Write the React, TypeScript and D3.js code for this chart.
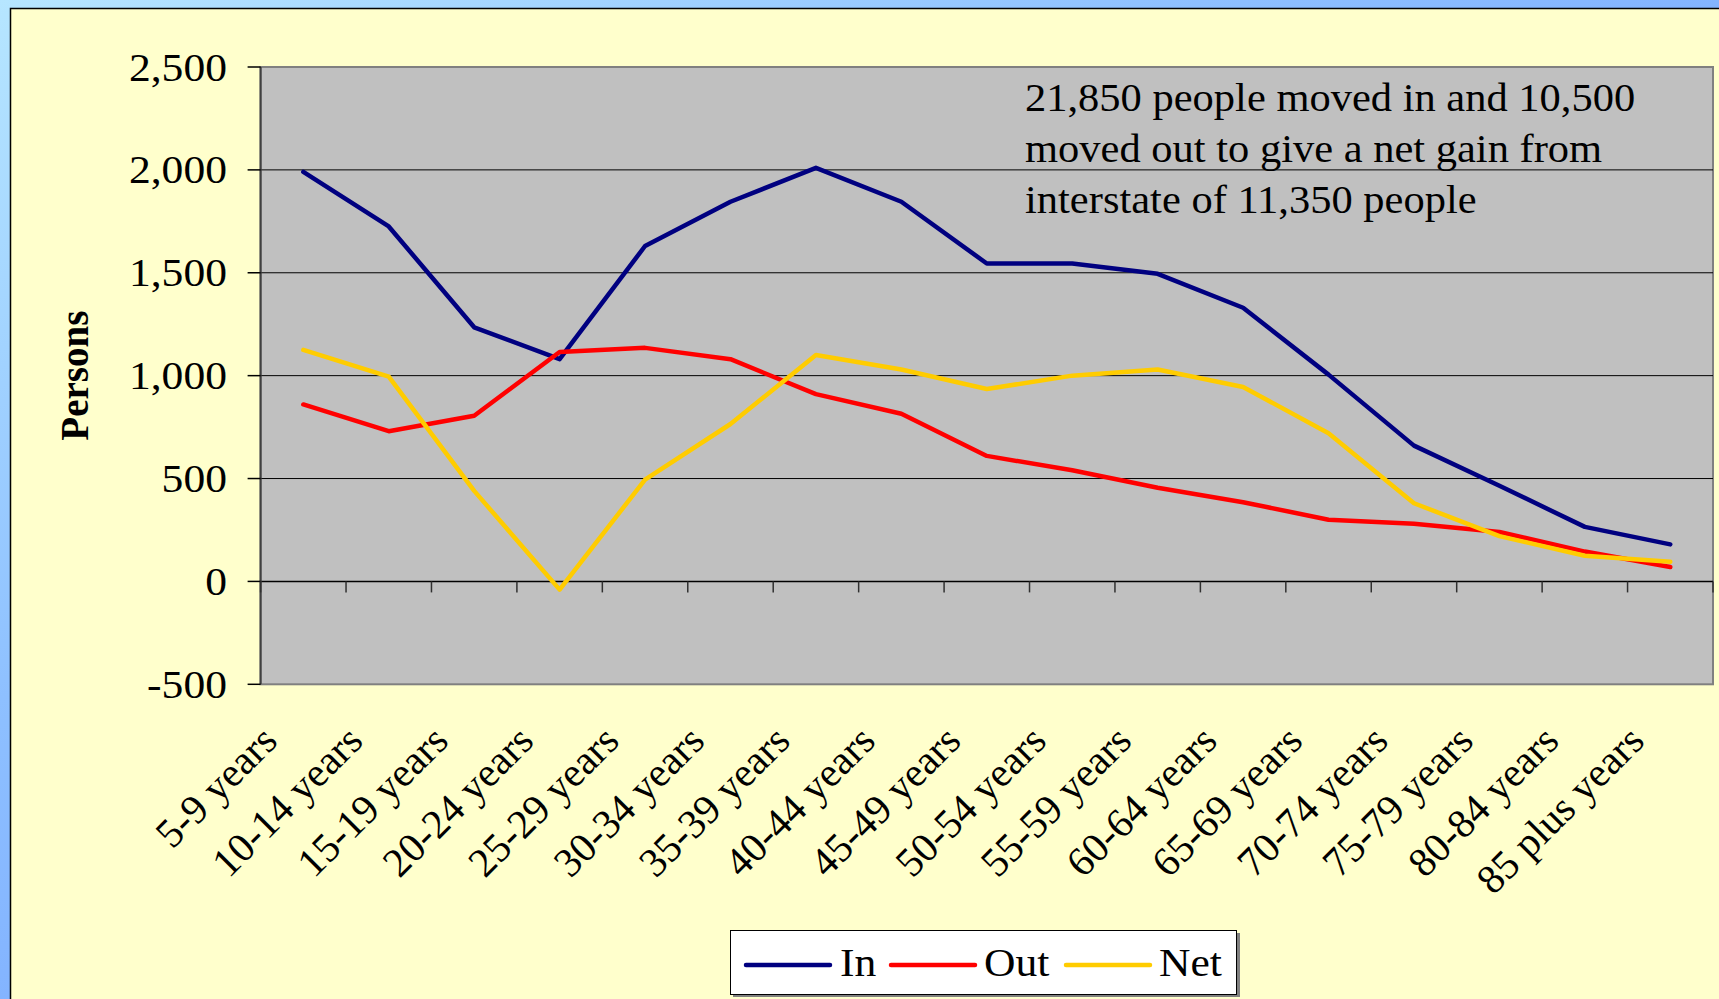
import React from "react";
import * as d3 from "d3";

const categories = [
  "5-9 years", "10-14 years", "15-19 years", "20-24 years", "25-29 years",
  "30-34 years", "35-39 years", "40-44 years", "45-49 years", "50-54 years",
  "55-59 years", "60-64 years", "65-69 years", "70-74 years", "75-79 years",
  "80-84 years", "85 plus years",
];
const inValues = [1990, 1725, 1235, 1080, 1630, 1845, 2010, 1845, 1545, 1545, 1495, 1330, 1005, 660, 465, 265, 180];
const outValues = [860, 730, 805, 1115, 1135, 1080, 910, 815, 610, 540, 455, 385, 300, 280, 240, 145, 70];
const netValues = [1125, 995, 440, -40, 495, 765, 1100, 1030, 935, 1000, 1030, 945, 720, 380, 220, 125, 95];
const yTicks = [-500, 0, 500, 1000, 1500, 2000, 2500];
const seriesNames = ["In", "Out", "Net"];
const seriesColors = ["#000080", "#ff0000", "#ffcc00"];
const noteLines = [
  "21,850 people moved in and 10,500",
  "moved out to give a net gain from",
  "interstate of 11,350 people",
];

const W = 1719;
const H = 999;
const plot = { left: 260.6, right: 1713, top: 67, bottom: 684.3 };
const FONT = "'Liberation Serif', 'Times New Roman', serif";
const SX = 1.09;

export default function App() {
  const x = d3
    .scaleBand<string>()
    .domain(categories)
    .range([plot.left, plot.right])
    .paddingInner(0)
    .paddingOuter(0);
  const y = d3.scaleLinear().domain([-500, 2500]).range([plot.bottom, plot.top]);
  const cx = (c: string) => (x(c) as number) + x.bandwidth() / 2;
  const line = d3
    .line<number>()
    .x((_, i) => cx(categories[i]))
    .y((v) => y(v));
  const allSeries = [inValues, outValues, netValues];
  const fmt = (v: number) => d3.format(",")(v).replace("\u2212", "-");

  const boundaries = d3.range(categories.length + 1).map((i) => plot.left + i * x.bandwidth());

  const legendItems = [
    { lx1: 746, lx2: 830, tx: 840 },
    { lx1: 891, lx2: 975, tx: 984 },
    { lx1: 1066, lx2: 1150, tx: 1159 },
  ];

  return (
    <svg
      width={W}
      height={H}
      style={{ position: "fixed", left: 0, top: 0, display: "block" }}
      fontFamily={FONT}
    >
      <defs>
        <linearGradient id="bg" x1="0" y1="0" x2="1" y2="1">
          <stop offset="0" stopColor="#b6e6ff" />
          <stop offset="0.35" stopColor="#8ec0ff" />
          <stop offset="1" stopColor="#5f8cff" />
        </linearGradient>
      </defs>
      <rect x={0} y={0} width={W} height={H} fill="url(#bg)" />
      <rect x={10.5} y={8.5} width={W + 20} height={H + 20} fill="#ffffcc" stroke="#000" strokeWidth={1.5} />

      {/* plot area */}
      <rect
        x={plot.left}
        y={plot.top}
        width={plot.right - plot.left}
        height={plot.bottom - plot.top}
        fill="#c0c0c0"
        stroke="#808080"
        strokeWidth={2}
      />
      {yTicks
        .filter((t) => t > -500 && t < 2500)
        .map((t) => (
          <line
            key={"g" + t}
            x1={plot.left}
            x2={plot.right}
            y1={y(t)}
            y2={y(t)}
            stroke="#000"
            strokeWidth={t === 0 ? 1.5 : 1}
          />
        ))}
      <line x1={plot.left} x2={plot.left} y1={plot.top} y2={plot.bottom} stroke="#404040" strokeWidth={2} />

      {/* y ticks & labels */}
      {yTicks.map((t) => (
        <g key={"yt" + t}>
          <line x1={plot.left - 13} x2={plot.left} y1={y(t)} y2={y(t)} stroke="#000" strokeWidth={1.5} />
          <text
            transform={`translate(227 ${y(t) + 13.5}) scale(${SX} 1)`}
            textAnchor="end"
            fontSize={40}
            fill="#000"
          >
            {fmt(t)}
          </text>
        </g>
      ))}

      {/* x ticks at zero line */}
      {boundaries.map((bx, i) => (
        <line key={"xt" + i} x1={bx} x2={bx} y1={y(0)} y2={y(0) + 11} stroke="#303030" strokeWidth={1.5} />
      ))}

      {/* x labels */}
      {categories.map((c) => {
        const ax = cx(c) - 24;
        const ay = 743;
        return (
          <text
            key={"xl" + c}
            x={ax}
            y={ay}
            textAnchor="end"
            fontSize={41}
            fill="#000"
            transform={`rotate(-45 ${ax} ${ay})`}
          >
            {c}
          </text>
        );
      })}

      {/* series */}
      {allSeries.map((vals, si) => (
        <path
          key={"s" + si}
          d={line(vals) || ""}
          fill="none"
          stroke={seriesColors[si]}
          strokeWidth={4.5}
          strokeLinejoin="round"
          strokeLinecap="round"
        />
      ))}

      {/* annotation */}
      {noteLines.map((t, i) => (
        <text
          key={"n" + i}
          transform={`translate(1025 ${110.5 + i * 51}) scale(${SX} 1)`}
          fontSize={39}
          fill="#000"
        >
          {t}
        </text>
      ))}

      {/* y axis title */}
      <text
        x={0}
        y={0}
        transform={`translate(88 ${(plot.top + plot.bottom) / 2}) rotate(-90)`}
        textAnchor="middle"
        fontSize={39}
        fontWeight="bold"
        fill="#000"
      >
        Persons
      </text>

      {/* legend */}
      <rect x={733} y={933} width={507} height={64} fill="#808080" />
      <rect x={730.5} y={930.5} width={506} height={64} fill="#fff" stroke="#000" strokeWidth={1} />
      {seriesNames.map((n, i) => (
        <g key={"lg" + n}>
          <line
            x1={legendItems[i].lx1}
            x2={legendItems[i].lx2}
            y1={965}
            y2={965}
            stroke={seriesColors[i]}
            strokeWidth={4.5}
            strokeLinecap="round"
          />
          <text
            transform={`translate(${legendItems[i].tx} 976) scale(${SX} 1)`}
            fontSize={40}
            fill="#000"
          >
            {n}
          </text>
        </g>
      ))}
    </svg>
  );
}
